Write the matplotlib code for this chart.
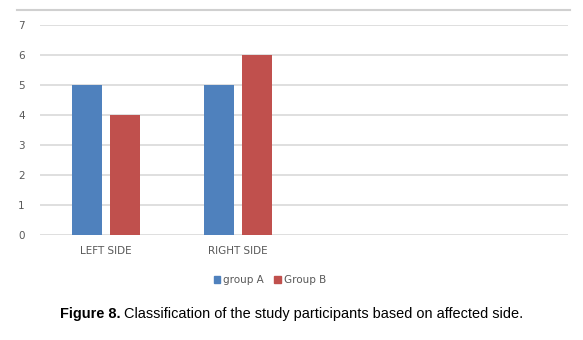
import matplotlib
matplotlib.use('Agg')
import matplotlib.pyplot as plt
import numpy as np
from matplotlib.lines import Line2D
from matplotlib.patches import Patch

categories = ['LEFT SIDE', 'RIGHT SIDE', '', '']
group_a = [5, 5, 0, 0]
group_b = [4, 6, 0, 0]
series_names = ['group A', 'Group B']
colors = ['#4F81BD', '#C0504D']
caption_bold = 'Figure 8.'
caption_rest = 'Classification of the study participants based on affected side.'

fig = plt.figure(figsize=(5.83, 3.40), dpi=100)
ax = fig.add_axes([40/583, 1-235/340, 528/583, 210/340])

x = np.arange(len(categories))
w = 0.22
off = 0.144
ax.bar(x - off, group_a, w, color=colors[0], zorder=3)
ax.bar(x + off, group_b, w, color=colors[1], zorder=3)

ax.set_xlim(-0.5, len(categories) - 0.5)
ax.set_ylim(0, 7)
ax.set_yticks(range(0, 8))
ax.set_xticks(x)
ax.set_xticklabels(categories)
ax.grid(axis='y', color='#d9d9d9', linewidth=1.2, zorder=0)
for s in ax.spines.values():
    s.set_visible(False)
ax.tick_params(length=0, labelsize=7.5, labelcolor='#595959')
ax.tick_params(axis='y', pad=11)
ax.tick_params(axis='x', pad=8)

# top border line of the chart box
fig.add_artist(Line2D([17/583, 570/583], [1-10/340, 1-10/340],
                      color='#d0d0d0', linewidth=1.5))

handles = [Patch(color=c) for c in colors]
fig.legend(handles, series_names, loc='center', bbox_to_anchor=(270/583, 1-280/340),
           ncol=2, frameon=False, fontsize=7.5, handlelength=0.6, handleheight=0.6,
           handletextpad=0.3, columnspacing=1.0, labelcolor='#595959')

# caption: bold label followed by regular text, sized to span ~462 px
cap_font = 'Liberation Sans'
cap_y = 1 - 314/340
size = 10.5
t1 = fig.text(60/583, cap_y, caption_bold, fontsize=size, fontweight='bold',
              family=cap_font, va='center', ha='left')
t2 = fig.text(0, cap_y, caption_rest, fontsize=size, family=cap_font,
              va='center', ha='left')
for _ in range(3):
    fig.canvas.draw()
    b1 = t1.get_window_extent()
    t2.set_x((b1.x1 + 3) / 583)
    fig.canvas.draw()
    total = t2.get_window_extent().x1 - b1.x0
    size *= 462 / total
    t1.set_fontsize(size)
    t2.set_fontsize(size)
fig.canvas.draw()
t2.set_x((t1.get_window_extent().x1 + 3) / 583)

fig.savefig('out.png', dpi=100)
